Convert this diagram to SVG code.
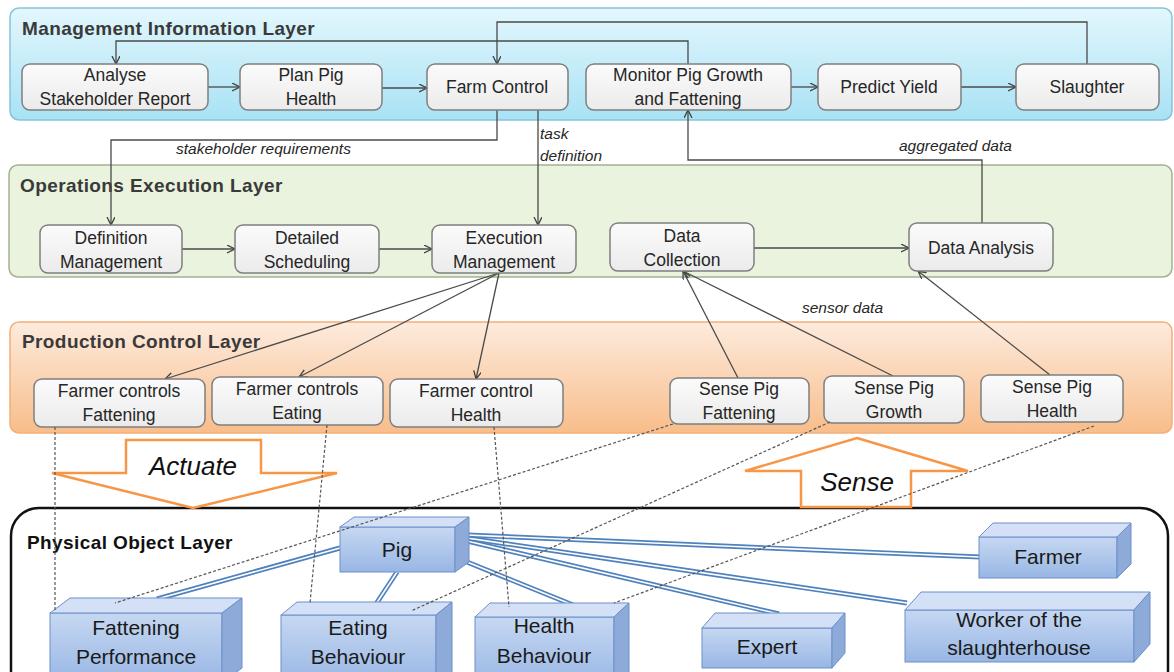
<svg xmlns="http://www.w3.org/2000/svg" width="1174" height="672" viewBox="0 0 1174 672">
<style>
.t{font-family:"Liberation Sans",Arial,sans-serif;font-size:17.5px;fill:#262626;text-anchor:middle}
.lt{font-family:"Liberation Sans",Arial,sans-serif;font-size:19px;font-weight:bold;fill:#3a3a3a;letter-spacing:0.4px}
.lbl{font-family:"Liberation Sans",Arial,sans-serif;font-size:15.5px;font-style:italic;fill:#262626}
.bt{font-family:"Liberation Sans",Arial,sans-serif;font-size:21px;fill:#1a1a1a;text-anchor:middle}
.big{font-family:"Liberation Sans",Arial,sans-serif;font-size:26px;font-style:italic;fill:#111;text-anchor:middle}
.box{fill:url(#gBox);stroke:#7f7f7f;stroke-width:1.5}
.con{fill:none;stroke:#4a4a4a;stroke-width:1.3}
.dot{fill:none;stroke:#555;stroke-width:1.2;stroke-dasharray:3 2}
.dbl{stroke:#4f81bd;stroke-width:5;fill:none}
.dbli{stroke:#ffffff;stroke-width:1.6;fill:none}
.front{fill:url(#gBlue);stroke:#6d8fcb;stroke-width:1}
.top{fill:#d3e0f5;stroke:#6d8fcb;stroke-width:1}
.side{fill:#8eaad8;stroke:#6d8fcb;stroke-width:1}
.big-arrow{fill:#fff;stroke:#f79646;stroke-width:2.5}
</style>
<defs>
<linearGradient id="gMgmt" x1="0" y1="0" x2="0" y2="1"><stop offset="0" stop-color="#e3f7fd"/><stop offset="1" stop-color="#a8e2f5"/></linearGradient>
<linearGradient id="gProd" x1="0" y1="0" x2="0" y2="1"><stop offset="0" stop-color="#fdebdd"/><stop offset="1" stop-color="#f8bd8a"/></linearGradient>
<linearGradient id="gBox" x1="0" y1="0" x2="0" y2="1"><stop offset="0" stop-color="#fbfbfb"/><stop offset="1" stop-color="#ebebeb"/></linearGradient>
<linearGradient id="gBlue" x1="0" y1="0" x2="0" y2="1"><stop offset="0" stop-color="#c6d8f2"/><stop offset="1" stop-color="#98b6e4"/></linearGradient>
<marker id="ah" markerWidth="10" markerHeight="10" refX="8" refY="4" orient="auto" markerUnits="userSpaceOnUse"><path d="M0,0 L8,4 L0,8" fill="none" stroke="#404040" stroke-width="1.3"/></marker>
</defs>

<g id="layers">
<rect x="10" y="8" width="1162" height="112" rx="9" fill="url(#gMgmt)" stroke="#86c3d6" stroke-width="1.5"/>
<text class="lt" x="22" y="35">Management Information Layer</text>
<rect x="9" y="165" width="1163" height="112" rx="9" fill="#e9f3dd" stroke="#a3b291" stroke-width="1.5"/>
<text class="lt" x="20" y="192">Operations Execution Layer</text>
<rect x="10" y="322" width="1162" height="111" rx="9" fill="url(#gProd)" stroke="#f4ae78" stroke-width="1.5"/>
<text class="lt" x="22" y="348">Production Control Layer</text>
<rect x="11" y="508" width="1157" height="200" rx="28" fill="#fff" stroke="#111" stroke-width="2.5"/>
<text class="lt" x="27" y="549" style="fill:#111">Physical Object Layer</text>
</g>

<g id="big-arrows">
<path class="big-arrow" d="M126,440 H261 V473 H337 L193,508 L52,473 H126 Z"/>
<text class="big" x="193" y="475">Actuate</text>
<path class="big-arrow" d="M857,438 L968,471 H911 V507 H801 V471 H745 Z"/>
<text class="big" x="857" y="491">Sense</text>
</g>

<g id="connectors">
<path class="con" d="M208,87 H240" marker-end="url(#ah)"/>
<path class="con" d="M375,88 H427" marker-end="url(#ah)"/>
<path class="con" d="M791,87 H818" marker-end="url(#ah)"/>
<path class="con" d="M961,87 H1016" marker-end="url(#ah)"/>
<path class="con" d="M688,64 V41 H116 V64" marker-end="url(#ah)"/>
<path class="con" d="M1087,64 V22 H497 V64" marker-end="url(#ah)"/>
<path class="con" d="M497,110 V140 H111 V225" marker-end="url(#ah)"/>
<path class="con" d="M538,110 V225" marker-end="url(#ah)"/>
<text class="lbl" x="176" y="154">stakeholder requirements</text>
<text class="lbl" x="540" y="139">task</text>
<text class="lbl" x="540" y="161">definition</text>
<path class="con" d="M182,249 H235" marker-end="url(#ah)"/>
<path class="con" d="M379,249 H432" marker-end="url(#ah)"/>
<path class="con" d="M754,248 H909" marker-end="url(#ah)"/>
<path class="con" d="M982,223 V160 H688 V110" marker-end="url(#ah)"/>
<text class="lbl" x="899" y="151">aggregated data</text>
<path class="con" d="M499,273 L165,379" marker-end="url(#ah)"/>
<path class="con" d="M499,273 L299,377" marker-end="url(#ah)"/>
<path class="con" d="M499,273 L476,379" marker-end="url(#ah)"/>
<path class="con" d="M738,378 L683,271" marker-end="url(#ah)"/>
<path class="con" d="M893,376 L683,271" marker-end="url(#ah)"/>
<path class="con" d="M1050,375 L918,271" marker-end="url(#ah)"/>
<text class="lbl" x="802" y="313">sensor data</text>
<g id="pig-links">
<path class="dbl" d="M340,548 L157,599"/><path class="dbli" d="M340,548 L157,599"/>
<path class="dbl" d="M397,572 L376,604"/><path class="dbli" d="M397,572 L376,604"/>
<path class="dbl" d="M467,562 L578,607"/><path class="dbli" d="M467,562 L578,607"/>
<path class="dbl" d="M467,541 L779,614"/><path class="dbli" d="M467,541 L779,614"/>
<path class="dbl" d="M467,538 L907,603"/><path class="dbli" d="M467,538 L907,603"/>
<path class="dbl" d="M467,535 L980,557"/><path class="dbli" d="M467,535 L980,557"/>
</g>
</g>

<g id="mgmt-nodes">
<g id="n-analyse"><rect class="box" x="22" y="64" width="186" height="46" rx="8"/><text class="t" x="115" y="81">Analyse</text><text class="t" x="115" y="105">Stakeholder Report</text></g>
<g id="n-plan"><rect class="box" x="240" y="64" width="142" height="46" rx="8"/><text class="t" x="311" y="81">Plan Pig</text><text class="t" x="311" y="105">Health</text></g>
<g id="n-farm"><rect class="box" x="427" y="64" width="141" height="46" rx="8"/><text class="t" x="497" y="93">Farm Control</text></g>
<g id="n-monitor"><rect class="box" x="586" y="64" width="205" height="46" rx="8"/><text class="t" x="688" y="81">Monitor  Pig Growth</text><text class="t" x="688" y="105">and Fattening</text></g>
<g id="n-predict"><rect class="box" x="818" y="64" width="143" height="46" rx="8"/><text class="t" x="889" y="93">Predict Yield</text></g>
<g id="n-slaughter"><rect class="box" x="1016" y="64" width="143" height="46" rx="8"/><text class="t" x="1087" y="93">Slaughter</text></g>
</g>

<g id="ops-nodes">
<g id="n-def"><rect class="box" x="40" y="225" width="142" height="48" rx="8"/><text class="t" x="111" y="244">Definition</text><text class="t" x="111" y="268">Management</text></g>
<g id="n-det"><rect class="box" x="235" y="225" width="144" height="48" rx="8"/><text class="t" x="307" y="244">Detailed</text><text class="t" x="307" y="268">Scheduling</text></g>
<g id="n-exe"><rect class="box" x="432" y="225" width="144" height="48" rx="8"/><text class="t" x="504" y="244">Execution</text><text class="t" x="504" y="268">Management</text></g>
<g id="n-dc"><rect class="box" x="610" y="223" width="144" height="48" rx="8"/><text class="t" x="682" y="242">Data</text><text class="t" x="682" y="266">Collection</text></g>
<g id="n-da"><rect class="box" x="909" y="223" width="144" height="48" rx="8"/><text class="t" x="981" y="254">Data Analysis</text></g>
</g>

<g id="prod-nodes">
<g id="n-fcf"><rect class="box" x="34" y="379" width="171" height="48" rx="8"/><text class="t" x="119" y="397">Farmer controls</text><text class="t" x="119" y="421">Fattening</text></g>
<g id="n-fce"><rect class="box" x="212" y="377" width="171" height="48" rx="8"/><text class="t" x="297" y="395">Farmer controls</text><text class="t" x="297" y="419">Eating</text></g>
<g id="n-fch"><rect class="box" x="390" y="379" width="173" height="48" rx="8"/><text class="t" x="476" y="397">Farmer control</text><text class="t" x="476" y="421">Health</text></g>
<g id="n-spf"><rect class="box" x="670" y="378" width="139" height="46" rx="8"/><text class="t" x="739" y="395">Sense Pig</text><text class="t" x="739" y="419">Fattening</text></g>
<g id="n-spg"><rect class="box" x="824" y="376" width="140" height="47" rx="8"/><text class="t" x="894" y="394">Sense Pig</text><text class="t" x="894" y="418">Growth</text></g>
<g id="n-sph"><rect class="box" x="981" y="375" width="142" height="47" rx="8"/><text class="t" x="1052" y="393">Sense Pig</text><text class="t" x="1052" y="417">Health</text></g>
</g>

<g id="physical-nodes">
<g id="n-pig"><rect class="front" x="340" y="527" width="115" height="45"/><polygon class="top" points="340,527 354,517 469,517 455,527"/><polygon class="side" points="455,527 469,517 469,562 455,572"/><text class="bt" x="397" y="557">Pig</text></g>
<g id="n-fp"><rect class="front" x="50" y="613" width="172" height="70"/><polygon class="top" points="50,613 70,598 242,598 222,613"/><polygon class="side" points="222,613 242,598 242,668 222,683"/><text class="bt" x="136" y="635">Fattening</text><text class="bt" x="136" y="664">Performance</text></g>
<g id="n-eb"><rect class="front" x="281" y="615" width="155" height="70"/><polygon class="top" points="281,615 297,602 452,602 436,615"/><polygon class="side" points="436,615 452,602 452,672 436,685"/><text class="bt" x="358" y="635">Eating</text><text class="bt" x="358" y="664">Behaviour</text></g>
<g id="n-hb"><rect class="front" x="475" y="617" width="139" height="70"/><polygon class="top" points="475,617 490,603 629,603 614,617"/><polygon class="side" points="614,617 629,603 629,673 614,687"/><text class="bt" x="544" y="633">Health</text><text class="bt" x="544" y="663">Behaviour</text></g>
<g id="n-expert"><rect class="front" x="702" y="628" width="130" height="40"/><polygon class="top" points="702,628 715,613 845,613 832,628"/><polygon class="side" points="832,628 845,613 845,653 832,668"/><text class="bt" x="767" y="654">Expert</text></g>
<g id="n-worker"><rect class="front" x="905" y="610" width="229" height="52"/><polygon class="top" points="905,610 921,592 1150,592 1134,610"/><polygon class="side" points="1134,610 1150,592 1150,644 1134,662"/><text class="bt" x="1019" y="627">Worker of the</text><text class="bt" x="1019" y="655">slaughterhouse</text></g>
<g id="n-farmer"><rect class="front" x="979" y="537" width="138" height="41"/><polygon class="top" points="979,537 993,523 1131,523 1117,537"/><polygon class="side" points="1117,537 1131,523 1131,564 1117,578"/><text class="bt" x="1048" y="564">Farmer</text></g>
</g>

<g id="dotted-links">
<path class="dot" d="M55,427 L55,612"/>
<path class="dot" d="M327,425 L310,603"/>
<path class="dot" d="M494,427 L509,607"/>
<path class="dot" d="M673,424 L115,603"/>
<path class="dot" d="M830,422 L411,611"/>
<path class="dot" d="M1094,426 L614,603"/>
</g>
</svg>
